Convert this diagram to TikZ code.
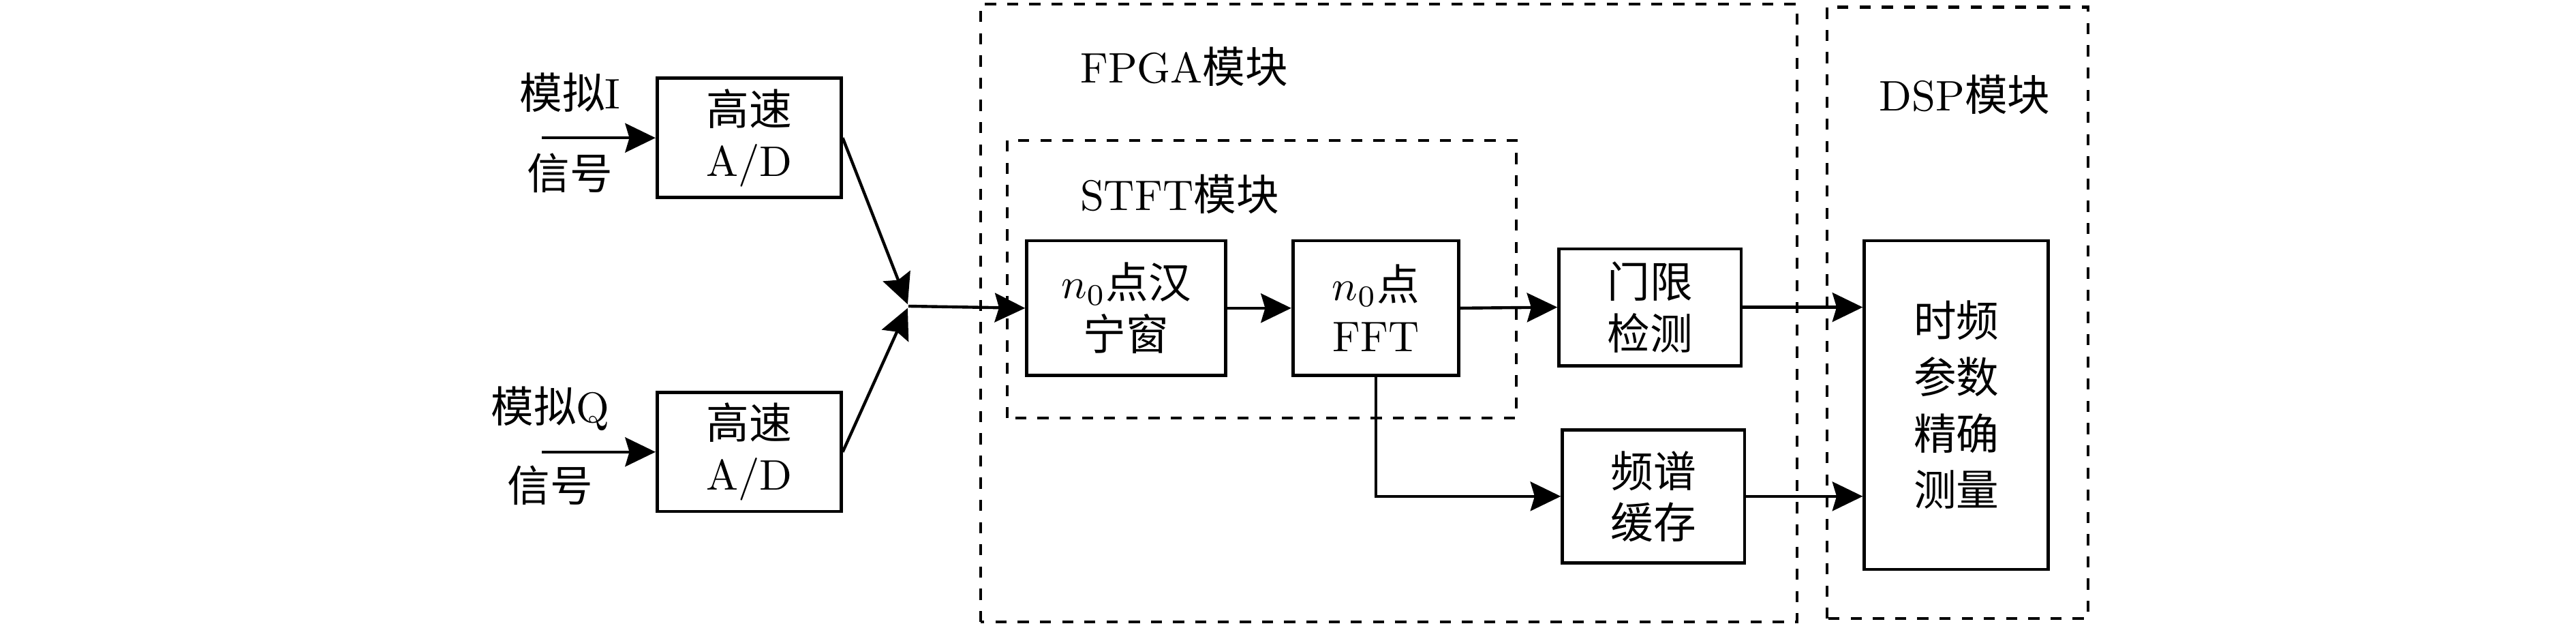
\documentclass[tikz,border=0pt]{standalone}
\usepackage{fontspec}
\newfontfamily\cjk{Noto Sans CJK SC}
\usetikzlibrary{arrows.meta}

\begin{document}
\begin{tikzpicture}[
    block/.style={draw,line width=0.75pt,align=center,inner sep=0pt},
    module/.style={draw,line width=0.65pt,dash pattern=on 2.6pt off 2.6pt},
    sig/.style={line width=0.7pt,-{Stealth[length=2.5mm,width=2.4mm,inset=0.35mm]}}
]
    \pgfmathsetmacro{\pagewidth}{21.2}
    \pgfmathsetmacro{\pageheight}{5.143}
    \pgfmathsetmacro{\adwidth}{1.514}
    \pgfmathsetmacro{\adheight}{0.98}
    \pgfmathsetmacro{\stftheight}{1.109}
    \pgfmathsetmacro{\outwidth}{1.5}
    \useasboundingbox (0,0) rectangle (\pagewidth,\pageheight);
    % \draw[red] (0,0) rectangle (\pagewidth,\pageheight);
    \draw[module] (8.071,0.027) rectangle (14.791,5.11);
    \draw[module] (8.288,1.703) rectangle (12.479,3.988);
    \draw[module] (15.034,0.054) rectangle (17.184,5.084);
    \node[anchor=west,inner sep=0] (fpgalabel) at (8.883,4.597) {FPGA{\cjk 模块}};
    \node[anchor=west,inner sep=0] (stftlabel) at (8.883,3.548) {STFT{\cjk 模块}};
    \node[inner sep=0] (dsplabel) at (16.17,4.367) {DSP{\cjk 模块}};
    \node[block,minimum width=\adwidth cm,minimum height=\adheight cm] (adI) at (6.165,4.009) {{\cjk 高速}\\A/D};
    \node[block,minimum width=\adwidth cm,minimum height=\adheight cm] (adQ) at (6.165,1.426) {{\cjk 高速}\\A/D};
    \coordinate (inI) at (4.46,4.009);
    \coordinate (inQ) at (4.46,1.426);
    \node[inner sep=0] (nameI) at (4.691,4.38) {{\cjk 模拟}I};
    \node[inner sep=0] (sigI) at (4.691,3.72) {\cjk 信号};
    \node[inner sep=0] (nameQ) at (4.529,1.78) {{\cjk 模拟}Q};
    \node[inner sep=0] (sigQ) at (4.529,1.15) {\cjk 信号};
    \coordinate (j) at (7.476,2.625);
    \coordinate (jI) at (7.47,2.64);
    \coordinate (jQ) at (7.47,2.61);
    \node[block,minimum width=1.636cm,minimum height=\stftheight cm] (hann) at (9.268,2.609) {$n_0${\cjk 点汉}\\{\cjk 宁窗}};
    \node[block,minimum width=1.366cm,minimum height=\stftheight cm] (fft) at (11.323,2.609) {$n_0${\cjk 点}\\FFT};
    \node[block,minimum width=\outwidth cm,minimum height=0.96cm] (thr) at (13.58,2.616) {{\cjk 门限}\\{\cjk 检测}};
    \node[block,minimum width=\outwidth cm,minimum height=1.095cm] (spec) at (13.608,1.061) {{\cjk 频谱}\\{\cjk 缓存}};
    \node[block,minimum width=1.514cm,minimum height=2.704cm] (meas) at (16.10,1.812) {{\cjk 时频}\\[1.2pt]{\cjk 参数}\\[1.2pt]{\cjk 精确}\\[1.2pt]{\cjk 测量}};
    \draw[sig] (inI) -- (adI.west);
    \draw[sig] (inQ) -- (adQ.west);
    \draw[sig] (adI.east) -- (jI);
    \draw[sig] (adQ.east) -- (jQ);
    \draw[sig] (j) -- (hann.west);
    \draw[sig] (hann.east) -- (fft.west);
    \draw[sig] (fft.east) -- (thr.west);
    \draw[sig] (thr.east) -- (thr.east -| meas.west);
    \draw[sig] (fft.south) |- (spec.west);
    \draw[sig] (spec.east) -- (spec.east -| meas.west);
\end{tikzpicture}
\end{document}
